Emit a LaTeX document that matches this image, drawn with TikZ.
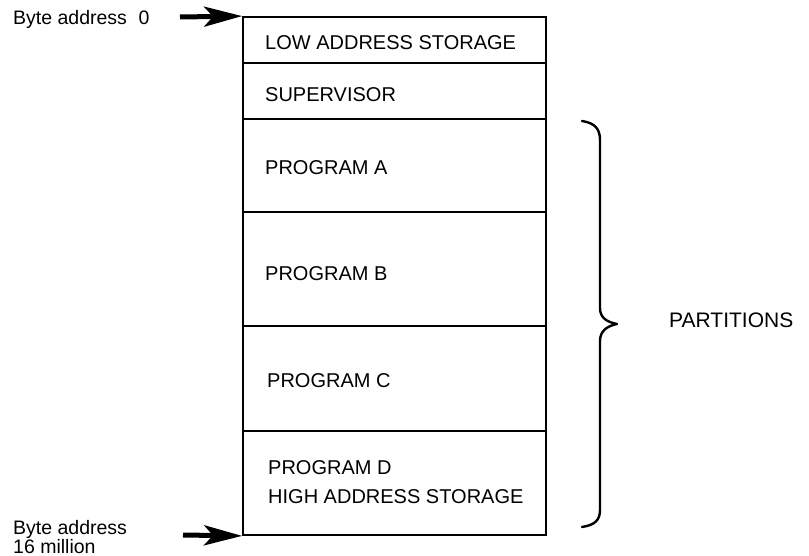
\documentclass[tikz,border=0pt]{standalone}
\usepackage{fontspec}
\setmainfont{Liberation Sans}
\usetikzlibrary{arrows.meta}
\begin{document}
\begin{tikzpicture}[x=1pt,y=-1pt,
  cell/.style={draw, line width=1.8pt, minimum width=303pt, inner sep=0pt},
  celltext/.style={anchor=west, inner sep=0pt, font=\fontsize{20}{24}\selectfont},
  sidetext/.style={anchor=base west, inner sep=0pt, font=\fontsize{19.5}{23}\selectfont},
  bigarrow/.style={line width=5pt, -{Stealth[length=38pt,width=20pt,inset=9pt]}},
  bracestyle/.style={line width=2.4pt, line cap=round, line join=round}]
  \useasboundingbox (0,0) rectangle (809,556);

  % storage map, top to bottom
  \node[cell, minimum height=46pt]  (low)  at (394.5,40)    {};
  \node[cell, minimum height=56pt]  (sup)  at (394.5,91)    {};
  \node[cell, minimum height=93pt]  (pa)   at (394.5,165.5) {};
  \node[cell, minimum height=114pt] (pb)   at (394.5,269)   {};
  \node[cell, minimum height=105pt] (pc)   at (394.5,378.5) {};
  \node[cell, minimum height=104pt] (pd)   at (394.5,483)   {};

  \node[celltext] (tlow) at (265,43)  {LOW ADDRESS STORAGE};
  \node[celltext] (tsup) at (265,95)  {SUPERVISOR};
  \node[celltext] (ta)   at (265,168) {PROGRAM A};
  \node[celltext] (tb)   at (265,274) {PROGRAM B};
  \node[celltext] (tc)   at (267,381) {PROGRAM C};
  \node[celltext] (td1)  at (268,468) {PROGRAM D};
  \node[celltext] (td2)  at (268,497) {HIGH ADDRESS STORAGE};

  % address markers
  \node[sidetext] (top)  at (13,25)  {Byte address\hspace{0.6em}0};
  \node[sidetext] (bot1) at (13,534) {Byte address};
  \node[sidetext] (bot2) at (13,553) {16 million};
  \coordinate (toptail) at (180,17);
  \coordinate (bottail) at (183,535);
  \draw[bigarrow] (toptail) -- (low.north west);
  \draw[bigarrow] (bottail) -- (pd.south west);

  % brace over the partitions
  \draw[bracestyle] (582,121) .. controls (595,123) and (600,129) .. (600,140)
    -- (600,308) .. controls (600,318) and (607,322) .. (617,324)
    .. controls (607,326) and (600,331) .. (600,341)
    -- (600,510) .. controls (600,520) and (595,525) .. (582,527);
  \node[anchor=west, inner sep=0pt, font=\fontsize{21}{25}\selectfont] (part) at (669,320) {PARTITIONS};
\end{tikzpicture}
\end{document}
